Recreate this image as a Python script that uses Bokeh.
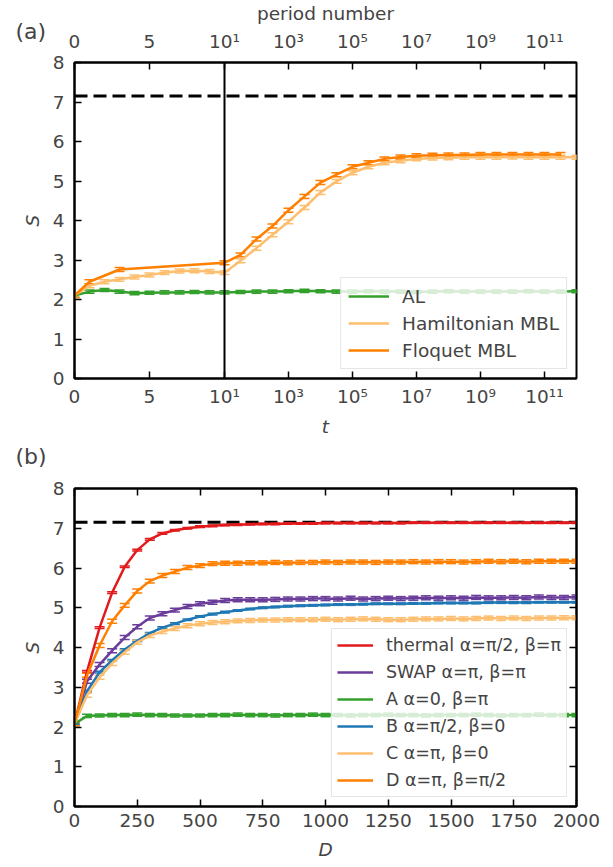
import math

from bokeh.embed import file_html
from bokeh.layouts import column
from bokeh.models import (ColumnDataSource, FixedTicker, Legend, LegendItem,
                          LinearAxis, Range1d, Span, TeeHead, Title, Whisker)
from bokeh.plotting import figure
from bokeh.resources import INLINE

FONT = "DejaVu Sans"
FONT_SIZE = "18.5px"

# ---------------- panel (a): entropy vs time ----------------
# linear part of the time axis (0..10) followed by log-spaced times 10^1.5 .. 10^12
T_LIN = [0, 1, 2, 3, 4, 5, 6, 7, 8, 9, 10]
LOG_EXP = [1.5, 2.0, 2.5, 3.0, 3.5, 4.0, 4.5, 5.0, 5.5, 6.0, 6.5, 7.0, 7.5,
           8.0, 8.5, 9.0, 9.5, 10.0, 10.5, 11.0, 11.5, 12.0]
T_FLOQ_LIN = [0, 1, 3, 10]
LOG_EXP_FLOQ = LOG_EXP[:-1]

S_AL = [2.10, 2.20, 2.24, 2.20, 2.16, 2.17, 2.18, 2.18, 2.19, 2.18, 2.18,
        2.19, 2.20, 2.20, 2.21, 2.22, 2.21, 2.20, 2.20, 2.21, 2.20, 2.20,
        2.19, 2.20, 2.21, 2.20, 2.20, 2.20, 2.20, 2.21, 2.20, 2.20, 2.21]
S_HAM = [2.10, 2.35, 2.45, 2.51, 2.57, 2.62, 2.68, 2.72, 2.73, 2.71, 2.68,
         2.98, 3.30, 3.64, 3.97, 4.33, 4.71, 4.99, 5.21, 5.36, 5.46, 5.51,
         5.56, 5.58, 5.59, 5.60, 5.60, 5.60, 5.61, 5.60, 5.60, 5.60, 5.60]
S_FLOQ = [2.10, 2.45, 2.76, 2.93,
          3.13, 3.53, 3.86, 4.26, 4.61, 4.96, 5.16, 5.36, 5.46, 5.56, 5.61,
          5.64, 5.65, 5.66, 5.66, 5.67, 5.67, 5.67, 5.67, 5.67, 5.67]
ERR_AL, ERR_HAM, ERR_FLOQ = 0.04, 0.05, 0.05

S_PAGE = 7.15

T_TICKS = [0, 5, 10, 1e3, 1e5, 1e7, 1e9, 1e11]
T_TICK_LABELS = ["0", "5", "10¹", "10³", "10⁵", "10⁷", "10⁹", "10¹¹"]
T_MAX = 1e12

# one decade of the log part is drawn as wide as this many linear time units
DECADE_WIDTH = 32 / 15


def squash(t):
    """Map time onto the mixed axis: linear up to t=10, logarithmic beyond."""
    if t <= 10:
        return float(t)
    return 10 + DECADE_WIDTH * (math.log10(t) - 1)


# ---------------- panel (b): entropy vs D ----------------
D = [0, 50, 100, 150, 200, 250, 300, 350, 400, 450, 500, 550, 600, 650, 700,
     750, 800, 850, 900, 950, 1000, 1050, 1100, 1150, 1200, 1250, 1300, 1350,
     1400, 1450, 1500, 1550, 1600, 1650, 1700, 1750, 1800, 1850, 1900, 1950, 2000]

S_THERMAL = [2.08, 3.40, 4.50, 5.38, 6.03, 6.45, 6.72, 6.87, 6.95, 7.00, 7.04,
             7.06, 7.08, 7.09, 7.10, 7.11, 7.11, 7.12, 7.12, 7.12, 7.13,
             7.13, 7.13, 7.13, 7.13, 7.13, 7.13, 7.14, 7.14, 7.14, 7.14,
             7.14, 7.14, 7.14, 7.14, 7.14, 7.14, 7.14, 7.14, 7.14, 7.14]
S_SWAP = [2.08, 3.15, 3.57, 3.92, 4.25, 4.52, 4.74, 4.85, 4.94, 5.03, 5.10,
          5.14, 5.18, 5.20, 5.20, 5.20, 5.21, 5.22, 5.22, 5.23, 5.23,
          5.22, 5.24, 5.22, 5.23, 5.24, 5.23, 5.24, 5.25, 5.24, 5.25,
          5.24, 5.26, 5.25, 5.25, 5.26, 5.25, 5.27, 5.26, 5.26, 5.27]
S_A = [2.08, 2.28, 2.29, 2.30, 2.30, 2.31, 2.30, 2.30, 2.29, 2.29, 2.29,
       2.30, 2.30, 2.31, 2.30, 2.30, 2.29, 2.30, 2.30, 2.31, 2.30,
       2.30, 2.29, 2.30, 2.30, 2.31, 2.30, 2.30, 2.29, 2.30, 2.30,
       2.30, 2.31, 2.30, 2.29, 2.30, 2.30, 2.31, 2.30, 2.30, 2.30]
S_B = [2.08, 2.90, 3.38, 3.68, 3.95, 4.17, 4.36, 4.50, 4.60, 4.70, 4.78,
       4.84, 4.89, 4.93, 4.97, 5.00, 5.02, 5.04, 5.05, 5.06, 5.07,
       5.08, 5.08, 5.09, 5.10, 5.10, 5.10, 5.11, 5.11, 5.12, 5.12,
       5.12, 5.12, 5.13, 5.13, 5.13, 5.13, 5.14, 5.14, 5.14, 5.14]
S_C = [2.08, 2.80, 3.25, 3.60, 3.88, 4.13, 4.30, 4.40, 4.48, 4.55, 4.60,
       4.63, 4.65, 4.67, 4.68, 4.69, 4.69, 4.70, 4.70, 4.70, 4.71,
       4.70, 4.71, 4.72, 4.71, 4.70, 4.70, 4.71, 4.72, 4.72, 4.73,
       4.72, 4.73, 4.74, 4.73, 4.74, 4.73, 4.74, 4.74, 4.75, 4.75]
S_D = [2.08, 3.30, 4.05, 4.66, 5.06, 5.42, 5.67, 5.81, 5.91, 6.01, 6.06,
       6.11, 6.12, 6.12, 6.13, 6.13, 6.14, 6.13, 6.14, 6.14, 6.15,
       6.14, 6.15, 6.15, 6.14, 6.15, 6.15, 6.16, 6.15, 6.16, 6.16,
       6.15, 6.16, 6.17, 6.16, 6.17, 6.16, 6.17, 6.17, 6.17, 6.17]
ERR_B_PANEL = {"thermal": 0.02, "SWAP": 0.05, "A": 0.04, "B": 0.02, "C": 0.05, "D": 0.05}

D_TICKS = [0, 250, 500, 750, 1000, 1250, 1500, 1750, 2000]
S_TICKS = [0, 1, 2, 3, 4, 5, 6, 7, 8]

RED, PURPLE, GREEN = "#e31a1c", "#6a3d9a", "#33a02c"
BLUE, LIGHT_ORANGE, ORANGE = "#1f78b4", "#fdbf6f", "#ff7f00"


def style_axis(ax, standoff=7):
    ax.major_tick_in = 7
    ax.major_tick_out = 0
    ax.minor_tick_in = 0
    ax.minor_tick_out = 0
    ax.major_tick_line_width = 1.5
    ax.axis_line_width = 2
    ax.major_label_text_font = FONT
    ax.major_label_text_font_size = FONT_SIZE
    ax.major_label_standoff = standoff
    ax.axis_label_text_font = FONT
    ax.axis_label_text_font_size = FONT_SIZE


def tick_only_axis(ticks):
    """Axis that only draws inward ticks (no labels) on the opposite spine."""
    ax = LinearAxis(ticker=FixedTicker(ticks=[], minor_ticks=ticks))
    ax.major_tick_in = 0
    ax.major_tick_out = 0
    ax.minor_tick_in = 7
    ax.minor_tick_out = 0
    ax.minor_tick_line_width = 1.5
    ax.minor_tick_line_color = "black"
    ax.major_label_standoff = 0
    ax.axis_line_width = 2
    return ax


def panel_title(text, size, standoff, align="left", offset=0, valign="bottom"):
    return Title(text=text, align=align, offset=offset, standoff=standoff,
                 text_font=FONT, text_font_size=size, text_font_style="normal",
                 vertical_align=valign)


def make_figure(height, x_end, border_top, border_bottom):
    p = figure(width=613, height=height, x_range=Range1d(0, x_end), y_range=Range1d(0, 8),
               output_backend="svg", toolbar_location=None,
               min_border_left=74, min_border_right=37,
               min_border_top=border_top, min_border_bottom=border_bottom)
    p.title.visible = False
    p.xgrid.visible = False
    p.ygrid.visible = False
    p.outline_line_color = "black"
    p.outline_line_width = 2
    p.background_fill_color = "white"
    p.border_fill_color = "white"
    p.yaxis.ticker = FixedTicker(ticks=S_TICKS)
    p.yaxis.axis_label = "S"
    for ax in p.yaxis:
        style_axis(ax, standoff=10)
        ax.axis_label_standoff = 7
    return p


def add_series(p, x, y, err, color, width=2.5):
    src = ColumnDataSource(dict(x=x, y=y, lo=[v - err for v in y], hi=[v + err for v in y]))
    p.add_layout(Whisker(source=src, base="x", lower="lo", upper="hi",
                         line_color=color, line_width=1.5,
                         lower_head=TeeHead(size=10, line_color=color, line_width=1.5),
                         upper_head=TeeHead(size=10, line_color=color, line_width=1.5)))
    line = p.line("x", "y", source=src, line_color=color, line_width=width)
    # legend icon: a short error bar across the line
    icon = p.scatter(x=[], y=[], marker="cross", size=20, line_color=color, line_width=1.5)
    return [line, icon]


def style_legend(leg, font_size, glyph_width, padding):
    leg.location = "bottom_right"
    leg.margin = 9
    leg.padding = padding
    leg.spacing = 5
    leg.glyph_width = glyph_width
    leg.glyph_height = 22
    leg.label_height = 22
    leg.label_standoff = 13
    leg.label_text_font = FONT
    leg.label_text_font_size = font_size
    leg.border_line_color = "#cccccc"
    leg.border_line_width = 1
    leg.background_fill_color = "white"
    leg.background_fill_alpha = 0.8


# ---------- figure (a) ----------
pa = make_figure(474, squash(T_MAX), 62, 93)

t_al = T_LIN + [10 ** e for e in LOG_EXP]
t_floq = T_FLOQ_LIN + [10 ** e for e in LOG_EXP_FLOQ]

pa.add_layout(Span(location=S_PAGE, dimension="width", line_color="black",
                   line_width=3, line_dash="13 6"))
pa.add_layout(Span(location=squash(10), dimension="height", line_color="black", line_width=2))

r_al = add_series(pa, [squash(t) for t in t_al], S_AL, ERR_AL, GREEN)
r_ham = add_series(pa, [squash(t) for t in t_al], S_HAM, ERR_HAM, LIGHT_ORANGE)
r_floq = add_series(pa, [squash(t) for t in t_floq], S_FLOQ, ERR_FLOQ, ORANGE)

tick_pos = [squash(t) for t in T_TICKS]
overrides = {pos: lab for pos, lab in zip(tick_pos, T_TICK_LABELS)}

pa.xaxis.ticker = FixedTicker(ticks=tick_pos)
pa.xaxis.major_label_overrides = overrides
pa.xaxis.axis_label = "t"
for ax in pa.xaxis:
    style_axis(ax)
    ax.axis_label_standoff = 6

top_a = LinearAxis(ticker=FixedTicker(ticks=tick_pos), major_label_overrides=overrides)
style_axis(top_a, standoff=11)
pa.add_layout(top_a, "above")
# caption of the top axis, then the panel tag pulled down beside the tick labels
pa.add_layout(panel_title("period number", FONT_SIZE, 3, align="center", valign="top"), "above")
pa.add_layout(panel_title("(a)", "22px", -84, offset=-59), "above")
# tag of the lower panel, hung below the time axis
pa.add_layout(panel_title("(b)", "22px", 8, offset=-59, valign="top"), "below")

leg_a = Legend(items=[LegendItem(label="AL", renderers=r_al),
                      LegendItem(label="Hamiltonian MBL", renderers=r_ham),
                      LegendItem(label="Floquet MBL", renderers=r_floq)])
style_legend(leg_a, FONT_SIZE, 41, 7)
pa.add_layout(leg_a)

# ---------- figure (b) ----------
pb = make_figure(393, 2000, 14, 61)

pb.add_layout(Span(location=S_PAGE, dimension="width", line_color="black",
                   line_width=3, line_dash="13 6", level="underlay"))

series_b = [
    ("thermal α=π/2, β=π", S_THERMAL, ERR_B_PANEL["thermal"], RED),
    ("SWAP α=π, β=π", S_SWAP, ERR_B_PANEL["SWAP"], PURPLE),
    ("A α=0, β=π", S_A, ERR_B_PANEL["A"], GREEN),
    ("B α=π/2, β=0", S_B, ERR_B_PANEL["B"], BLUE),
    ("C α=π, β=0", S_C, ERR_B_PANEL["C"], LIGHT_ORANGE),
    ("D α=π, β=π/2", S_D, ERR_B_PANEL["D"], ORANGE),
]
items_b = []
for label, s_vals, err, color in series_b:
    items_b.append(LegendItem(label=label, renderers=add_series(pb, D, s_vals, err, color)))

pb.xaxis.ticker = FixedTicker(ticks=D_TICKS)
pb.xaxis.axis_label = "D"
for ax in pb.xaxis:
    style_axis(ax)
    ax.axis_label_standoff = 9

pb.add_layout(tick_only_axis(D_TICKS), "above")
pb.add_layout(tick_only_axis(S_TICKS), "right")

leg_b = Legend(items=items_b)
style_legend(leg_b, "17.5px", 36, 5)
pb.add_layout(leg_b)

layout = column(pa, pb, spacing=0)
open("out.html", "w").write(file_html(layout, INLINE))
